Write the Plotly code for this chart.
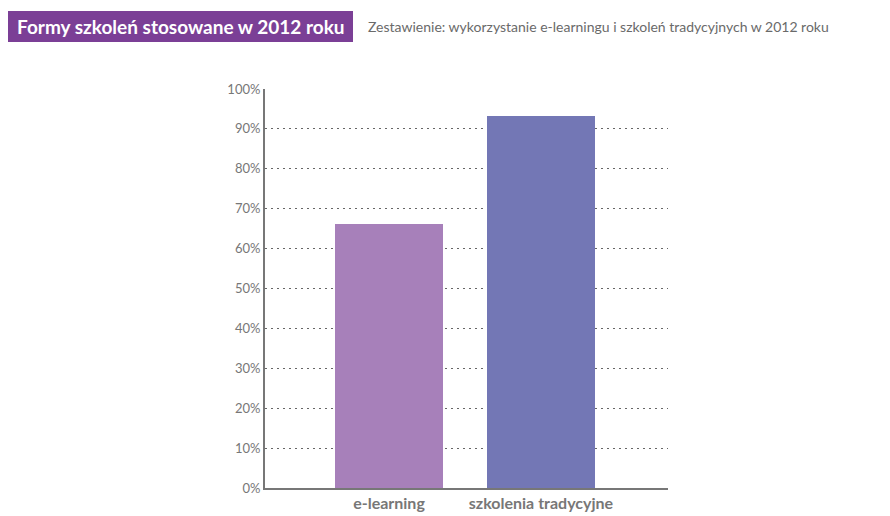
import plotly.graph_objects as go

categories = ['e-learning', 'szkolenia tradycyjne']
values = [66.2, 93.2]
colors = ['#a780ba', '#7377b5']
y_ticks = [0, 10, 20, 30, 40, 50, 60, 70, 80, 90, 100]

# page has an 8px body margin, so everything is placed 8px up/left
OFF = 8
fig = go.Figure()
fig.add_trace(go.Bar(
    x=categories,
    y=values,
    marker=dict(color=colors, line=dict(width=0)),
    width=0.71,
    hoverinfo='skip'
))

# plot area on screen: x 265..668, y 89..488 px
def px_x(p):
    return (p - 265) / 403

def px_y(p):
    return (488 - p) / 399

fig.add_shape(type='rect', xref='paper', yref='paper',
              x0=px_x(8), x1=px_x(353), y0=px_y(42), y1=px_y(11),
              fillcolor='#7b3f96', line=dict(width=0), layer='above')
fig.add_annotation(xref='paper', yref='paper', x=px_x(15), y=px_y(26.5),
                   xanchor='left', yanchor='middle', showarrow=False,
                   text='<b>Formy szkoleń stosowane w 2012 roku</b>',
                   font=dict(family='Lato', size=19, color='white'))
fig.add_annotation(xref='paper', yref='paper', x=px_x(366), y=px_y(27),
                   xanchor='left', yanchor='middle', showarrow=False,
                   text='Zestawienie: wykorzystanie e-learningu i szkoleń tradycyjnych w 2012 roku',
                   font=dict(family='Lato', size=14, color='#6a6a6a'))

fig.update_layout(
    width=890 - OFF, height=516 - OFF,
    margin=dict(l=265 - OFF, r=222, t=89 - OFF, b=28),
    paper_bgcolor='white', plot_bgcolor='white',
    showlegend=False,
    bargap=0,
    font=dict(family='Lato', color='#777777'),
)
fig.update_xaxes(
    type='category', range=[-0.816, 1.836],
    showline=True, linecolor='#777777', linewidth=2,
    showgrid=False, ticks='', automargin=False,
    tickfont=dict(family='Lato', size=16, color='#777777', weight='bold'),
)
fig.update_yaxes(
    range=[0, 100], tickvals=y_ticks,
    ticktext=[f'{v}%' for v in y_ticks],
    showline=True, linecolor='#777777', linewidth=2,
    showgrid=True, gridcolor='#666666', griddash='2px,4px', gridwidth=1,
    zeroline=False, ticks='', automargin=False,
    tickfont=dict(family='Lato', size=13, color='#777777'),
)

fig.write_html('out.html')
